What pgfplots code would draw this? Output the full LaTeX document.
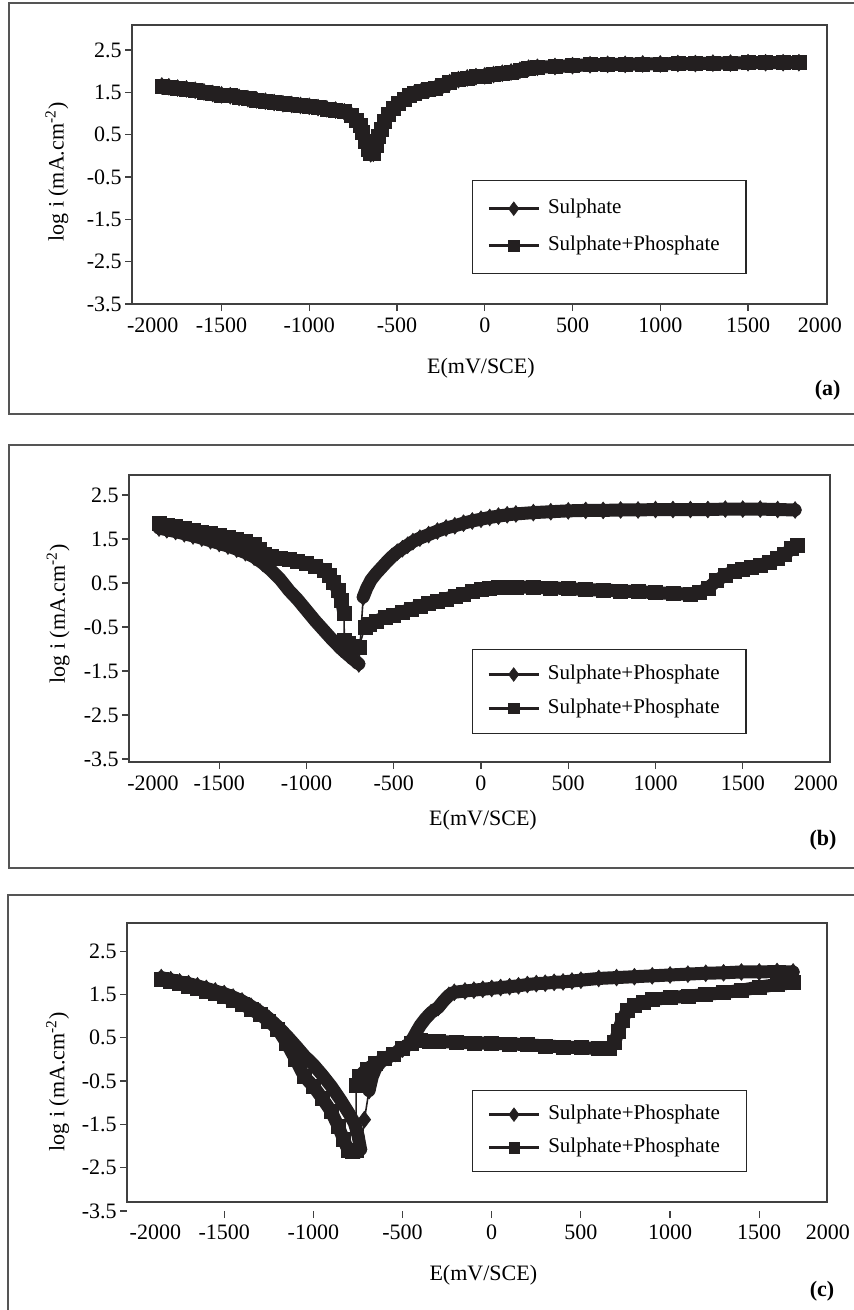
\documentclass[border=0pt]{standalone}
\usepackage{fontspec}
\setmainfont{Liberation Serif}
\usepackage{pgfplots}
\pgfplotsset{compat=1.18}
\usepackage{pgfplotstable}

\definecolor{ink}{HTML}{231F20}
\definecolor{framec}{HTML}{555555}
\newcommand{\fs}{\fontsize{11}{13}\selectfont}
\newcommand{\fl}{\fontsize{10.5}{12.5}\selectfont}

% ---------------- data ----------------
\pgfplotstableread{
E L
-1840 1.65
-1800 1.63
-1750 1.60
-1700 1.58
-1650 1.55
-1600 1.51
-1550 1.47
-1500 1.44
-1450 1.42
-1400 1.38
-1350 1.35
-1300 1.32
-1250 1.29
-1200 1.26
-1150 1.23
-1100 1.21
-1050 1.19
-1000 1.17
-950 1.14
-900 1.11
-850 1.08
-800 1.04
-760 0.96
-730 0.85
-710 0.72
-695 0.55
-680 0.35
-665 0.15
-650 0.05
-635 0.06
-620 0.25
-605 0.45
-590 0.62
-570 0.82
-550 0.98
-520 1.12
-490 1.24
-460 1.34
-430 1.42
-400 1.48
-360 1.53
-320 1.56
-280 1.60
-240 1.66
-200 1.73
-150 1.80
-100 1.84
-50 1.87
0 1.89
50 1.92
100 1.95
150 1.98
200 2.02
250 2.07
300 2.09
400 2.11
500 2.13
600 2.15
700 2.16
800 2.16
900 2.17
1000 2.17
1100 2.18
1200 2.18
1300 2.19
1400 2.19
1500 2.20
1600 2.20
1700 2.20
1790 2.20
}\dataA

\pgfplotstableread{
E L
-1845 1.75
-1800 1.71
-1750 1.67
-1700 1.62
-1650 1.57
-1600 1.52
-1550 1.46
-1500 1.40
-1450 1.34
-1400 1.27
-1350 1.19
-1300 1.09
-1250 0.95
-1200 0.78
-1150 0.58
-1100 0.33
-1050 0.12
-1000 -0.12
-950 -0.36
-900 -0.58
-850 -0.80
-800 -1.00
-760 -1.14
-730 -1.24
-700 -1.34
-690 nan
-675 0.18
-655 0.38
-630 0.57
-600 0.72
-570 0.85
-540 0.98
-510 1.10
-480 1.20
-450 1.28
-420 1.36
-390 1.44
-350 1.52
-300 1.60
-250 1.68
-200 1.75
-150 1.80
-100 1.86
-50 1.91
0 1.95
50 1.99
100 2.02
150 2.05
200 2.07
300 2.10
400 2.12
500 2.14
600 2.15
700 2.15
800 2.16
900 2.16
1000 2.17
1100 2.17
1200 2.17
1300 2.17
1400 2.18
1500 2.18
1600 2.18
1700 2.17
1800 2.16
}\dataBd

\pgfplotstableread{
E L
-1845 1.86
-1800 1.82
-1750 1.78
-1700 1.74
-1650 1.70
-1600 1.66
-1550 1.62
-1500 1.59
-1450 1.54
-1400 1.49
-1350 1.44
-1300 1.37
-1270 1.26
-1240 1.16
-1200 1.10
-1150 1.06
-1100 1.03
-1050 0.99
-1000 0.94
-950 0.88
-900 0.79
-870 0.67
-845 0.52
-820 0.33
-800 0.10
-785 -0.19
-784 nan
-783 -0.80
-760 -0.86
-730 -0.93
-700 -0.96
-690 nan
-664 -0.50
-640 -0.43
-600 -0.36
-550 -0.29
-500 -0.23
-450 -0.16
-400 -0.09
-350 -0.03
-300 0.03
-250 0.09
-200 0.14
-150 0.20
-100 0.25
-50 0.30
0 0.35
50 0.38
100 0.40
150 0.41
200 0.41
300 0.40
400 0.39
500 0.37
600 0.35
700 0.34
800 0.32
900 0.30
1000 0.28
1100 0.26
1200 0.25
1250 0.28
1300 0.38
1350 0.55
1400 0.68
1450 0.76
1500 0.82
1550 0.86
1600 0.91
1650 0.96
1700 1.05
1740 1.15
1780 1.28
1810 1.35
}\dataBs

\pgfplotstableread{
E L
-1853 1.89
-1800 1.84
-1750 1.79
-1700 1.75
-1650 1.70
-1600 1.64
-1550 1.58
-1500 1.52
-1450 1.44
-1400 1.35
-1350 1.23
-1300 1.10
-1250 0.95
-1200 0.76
-1150 0.55
-1100 0.32
-1050 0.08
-1000 -0.12
-950 -0.36
-900 -0.62
-850 -0.92
-800 -1.25
-770 -1.47
-750 -1.75
-735 -2.08
-725 nan
-714 -1.39
-700 nan
-688 -0.72
-670 -0.40
-650 -0.20
-620 -0.05
-580 0.05
-540 0.14
-500 0.24
-465 0.36
-440 0.50
-420 0.65
-400 0.79
-370 0.95
-340 1.08
-300 1.20
-270 1.35
-240 1.48
-210 1.55
-150 1.58
-100 1.60
-50 1.62
0 1.64
50 1.66
100 1.68
150 1.70
200 1.73
250 1.75
300 1.76
350 1.78
400 1.79
450 1.81
500 1.83
600 1.87
700 1.89
800 1.91
900 1.93
1000 1.95
1100 1.97
1200 1.99
1300 2.00
1400 2.02
1500 2.02
1600 2.03
1690 2.02
}\dataCd

\pgfplotstableread{
E L
-1853 1.85
-1800 1.80
-1750 1.75
-1700 1.70
-1650 1.64
-1600 1.58
-1550 1.52
-1500 1.45
-1450 1.37
-1400 1.28
-1350 1.16
-1300 1.04
-1250 0.88
-1200 0.70
-1150 0.38
-1100 0.00
-1050 -0.40
-1000 -0.62
-950 -0.90
-900 -1.20
-860 -1.55
-830 -1.85
-805 -2.10
-780 -2.12
-760 -2.10
-758 nan
-760 -0.60
-740 -0.38
-700 -0.22
-650 -0.10
-600 0.02
-550 0.12
-500 0.26
-450 0.38
-400 0.45
-350 0.43
-300 0.41
-200 0.40
-100 0.38
0 0.37
100 0.36
200 0.34
300 0.31
400 0.29
500 0.27
600 0.25
660 0.26
690 0.40
710 0.65
730 0.90
760 1.13
800 1.25
850 1.32
900 1.38
1000 1.43
1100 1.46
1200 1.50
1300 1.54
1400 1.60
1500 1.67
1600 1.73
1690 1.77
}\dataCs

\pgfplotsset{
  panel/.style={
    scale only axis,
    clip=false,
    axis line style={draw=black!75, line width=0.7pt},
    tick style={draw=black!75, line width=0.6pt},
    tick align=outside,
    xtick pos=left, ytick pos=left,
    major tick length=3.5pt,
    ticklabel style={font=\fs},
    yticklabel style={inner sep=1.5pt},
    label style={font=\fs},
    xtick={-1500,-1000,-500,0,500,1000,1500},
    xticklabels={-1500,-1000,-500,0,500,1000,1500},
    ytick={-3.5,-2.5,-1.5,-0.5,0.5,1.5,2.5},
    yticklabels={-3.5,-2.5,-1.5,-0.5,0.5,1.5,2.5},
    extra x tick style={major tick length=0pt, xticklabel style={yshift=-3.5pt}},
    xlabel={E(mV/SCE)},
    ylabel={log i (mA.cm\textsuperscript{-2})},
    legend cell align=left,
    legend image code/.code={\draw[mark repeat=2,mark phase=2] plot coordinates {(0pt,0pt) (12.5pt,0pt) (25pt,0pt)};},
    legend style={draw=black!85, line width=0.6pt, font=\fl, inner xsep=7.5pt,
      nodes={inner sep=0pt, text height=7.5pt, text depth=2.5pt},
      /tikz/every odd column/.append style={column sep=4pt}},
  },
  band/.style={ink, line width=6.5pt, line join=round, line cap=round, no markers, unbounded coords=jump, forget plot},
  dia/.style={ink, line width=0.8pt, mark=diamond*, mark size=4.2pt, mark options={solid, fill=ink, draw=ink, line width=0.3pt}, unbounded coords=discard, forget plot},
  sq/.style={ink, line width=0.8pt, mark=square*, mark size=3.5pt, mark options={solid, fill=ink, draw=ink, line width=0.3pt}, unbounded coords=discard, forget plot},
  legdia/.style={ink, line width=1.3pt, mark=diamond*, mark size=3.4pt, mark options={solid, fill=ink, line width=0.3pt}},
  legsq/.style={ink, line width=1.3pt, mark=square*, mark size=2.6pt, mark options={solid, fill=ink, line width=0.3pt}},
}

\begin{document}
\begin{tikzpicture}
\useasboundingbox (0,0) rectangle (426.5pt,-655pt);
\fill[white] (0,0) rectangle (426.5pt,-655pt);
% frames
\draw[framec, line width=0.8pt] (4.5pt,-1.5pt) rectangle (445pt,-207pt);
\draw[framec, line width=0.8pt] (4.5pt,-222.5pt) rectangle (445pt,-434pt);
\draw[framec, line width=0.8pt] (4pt,-447.5pt) rectangle (445pt,-670pt);

% ---------- (a) ----------
\begin{axis}[panel,
  at={(66pt,-12.5pt)}, anchor=north west,
  width=347.5pt, height=139.5pt,
  xmin=-2010, xmax=1950, ymin=-3.5, ymax=3.09,
  extra x ticks={-1892,1909}, extra x tick labels={-2000,2000},
  xlabel style={at={(axis description cs:0.502,-0.229)}, anchor=center},
  ylabel style={at={(axis description cs:-0.108,0.473)}, anchor=center},
  legend style={at={(axis description cs:0.489,0.444)}, anchor=north west, inner ysep=9pt, row sep=8.5pt},
]
\addplot[band] table[x=E,y=L] {\dataA};
\addplot[dia] table[x=E,y=L] {\dataA};
\addplot[sq] table[x=E,y=L] {\dataA};
\addlegendimage{legdia}
\addlegendentry{\makebox[91.5pt][l]{Sulphate}}
\addlegendimage{legsq}
\addlegendentry{\makebox[91.5pt][l]{Sulphate+Phosphate}}
\node[font=\fs\bfseries] at (axis description cs:1.001,-0.308) {(a)};
\end{axis}

% ---------- (b) ----------
\begin{axis}[panel,
  at={(64.5pt,-237.5pt)}, anchor=north west,
  width=350.5pt, height=143.5pt,
  xmin=-2017, xmax=2000, ymin=-3.57, ymax=2.955,
  extra x ticks={-1879,1919}, extra x tick labels={-2000,2000},
  xlabel style={at={(axis description cs:0.505,-0.202)}, anchor=center},
  ylabel style={at={(axis description cs:-0.101,0.516)}, anchor=center},
  legend style={at={(axis description cs:0.489,0.394)}, anchor=north west, inner ysep=7.5pt, row sep=7pt},
]
\addplot[band] table[x=E,y=L] {\dataBd};
\addplot[band] table[x=E,y=L] {\dataBs};
\addplot[dia] table[x=E,y=L] {\dataBd};
\addplot[sq] table[x=E,y=L] {\dataBs};
\addlegendimage{legdia}
\addlegendentry{\makebox[91.5pt][l]{Sulphate+Phosphate}}
\addlegendimage{legsq}
\addlegendentry{\makebox[91.5pt][l]{Sulphate+Phosphate}}
\node[font=\fs\bfseries] at (axis description cs:0.99,-0.272) {(b)};
\end{axis}

% ---------- (c) ----------
\begin{axis}[panel,
  at={(63.5pt,-461.5pt)}, anchor=north west,
  width=350pt, height=144pt,
  xmin=-2045, xmax=1880, ymin=-3.5, ymax=3.15,
  axis line style={draw=none},
  extra x ticks={-1886}, extra x tick labels={-2000},
  xlabel style={at={(axis description cs:0.509,-0.222)}, anchor=center},
  ylabel style={at={(axis description cs:-0.099,0.448)}, anchor=center},
  legend style={at={(axis description cs:0.493,0.420)}, anchor=north west, inner ysep=7pt, row sep=6.5pt},
]
\draw[black!75, line width=0.7pt] (axis cs:-2045,-3.29) rectangle (axis cs:1880,3.15);
\addplot[band] table[x=E,y=L] {\dataCd};
\addplot[band] table[x=E,y=L] {\dataCs};
\addplot[dia] table[x=E,y=L] {\dataCd};
\addplot[sq] table[x=E,y=L] {\dataCs};
\addlegendimage{legdia}
\addlegendentry{\makebox[91.5pt][l]{Sulphate+Phosphate}}
\addlegendimage{legsq}
\addlegendentry{\makebox[91.5pt][l]{Sulphate+Phosphate}}
\node[anchor=north, font=\fs, inner sep=0.333em, yshift=-3.5pt] at (axis cs:1885,-3.5) {2000};
\node[font=\fs\bfseries] at (axis description cs:0.993,-0.278) {(c)};
\end{axis}
\end{tikzpicture}
\end{document}
